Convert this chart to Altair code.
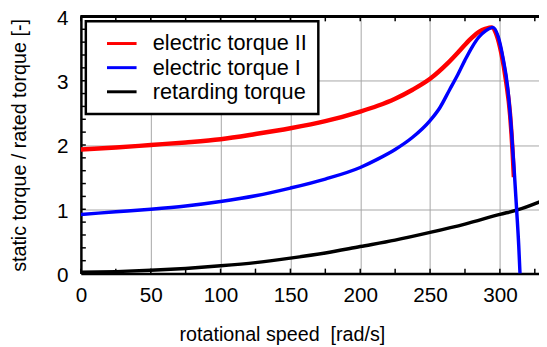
import altair as alt
import pandas as pd

# ---- data ----
series_names = ["electric torque II", "electric torque I", "retarding torque"]
series_colors = ["#ff0000", "#0000ff", "#000000"]

speed_II = [0, 25, 50, 75, 100, 125, 150, 175, 200, 212.5, 225, 237.5, 250, 262.5, 270, 275, 280,
            285, 290, 294, 297.5, 301, 304.5, 307.3, 309.2, 310]
torque_II = [1.93, 1.96, 2.0, 2.04, 2.09, 2.17, 2.26, 2.37, 2.52, 2.61, 2.72, 2.86, 3.03, 3.27, 3.44, 3.56, 3.67,
             3.76, 3.81, 3.83, 3.72, 3.43, 2.98, 2.47, 1.85, 1.5]

speed_I = [0, 25, 50, 75, 100, 125, 150, 175, 200, 212.5, 225, 237.5, 250, 257, 264, 270, 275, 280,
           285, 290, 295, 298.7, 302, 305.7, 308, 310.4, 312, 313.5, 314.4]
torque_I = [0.92, 0.96, 1.0, 1.05, 1.12, 1.21, 1.33, 1.47, 1.65, 1.78, 1.93, 2.12, 2.38, 2.58, 2.86, 3.10, 3.32, 3.52,
            3.68, 3.78, 3.83, 3.69, 3.38, 2.87, 2.31, 1.55, 0.99, 0.43, 0.0]

speed_ret = [0, 25, 50, 75, 100, 125, 150, 175, 200, 225, 250, 275, 300, 312.5, 330]
torque_ret = [0.02, 0.03, 0.05, 0.08, 0.12, 0.17, 0.24, 0.32, 0.42, 0.52, 0.64, 0.77, 0.92, 0.99, 1.13]

x_labels = [0, 50, 100, 150, 200, 250, 300]
y_labels = [0, 1, 2, 3, 4]
x_minor = [0, 25, 50, 75, 100, 125, 150, 175, 200, 225, 250, 275, 300, 325]
y_minor = [0, 0.2, 0.4, 0.6, 0.8, 1.0, 1.2, 1.4, 1.6, 1.8, 2.0, 2.2, 2.4, 2.6, 2.8,
           3.0, 3.2, 3.4, 3.6, 3.8, 4.0]

W, H = 465, 261
FONT = "Liberation Sans"

df_II = pd.DataFrame({"x": speed_II, "y": torque_II, "series": series_names[0]})
df_I = pd.DataFrame({"x": speed_I, "y": torque_I, "series": series_names[1]})
df_ret = pd.DataFrame({"x": speed_ret, "y": torque_ret, "series": series_names[2]})
df_xt = pd.DataFrame({"x": x_minor})
df_yt = pd.DataFrame({"y": y_minor})

xscale = alt.Scale(domain=[0, 328], nice=False, zero=False)
yscale = alt.Scale(domain=[0, 4], nice=False)

x_axis = alt.Axis(values=x_labels, grid=True, gridColor="#a6a6a6", gridWidth=1,
                  ticks=False, domainColor="black", domainWidth=2.5,
                  labelFont=FONT, labelFontSize=21, labelColor="black", labelPadding=11,
                  labelFlush=False,
                  title="rotational speed\u00a0 [rad/s]", titleFont=FONT, titleFontSize=20,
                  titleFontWeight="normal", titleColor="black",
                  titleX=204, titleY=68, titleAlign="center", titleBaseline="alphabetic")
y_axis = alt.Axis(values=y_labels, grid=True, gridColor="#a6a6a6", gridWidth=1,
                  ticks=False, domainColor="black", domainWidth=2.5,
                  labelFont=FONT, labelFontSize=21, labelColor="black", labelPadding=13,
                  labelFlush=False, labelOffset=2,
                  title="static torque / rated torque [-]", titleFont=FONT, titleFontSize=20,
                  titleFontWeight="normal", titleColor="black",
                  titleAngle=-90, titleX=-56, titleY=H / 2, titleAlign="center",
                  titleBaseline="alphabetic")

legend = alt.Legend(title=None, orient="none", legendX=5, legendY=5,
                    fillColor="white", strokeColor="black", padding=11,
                    symbolType="M-1.5,0L1.5,0", symbolSize=400, symbolStrokeWidth=3,
                    symbolOffset=14, labelOffset=20,
                    labelFont=FONT, labelFontSize=22, labelColor="black",
                    rowPadding=1.5)
color = alt.Color("series:N", scale=alt.Scale(domain=series_names, range=series_colors),
                  legend=legend)


def line_layer(df, width):
    return alt.Chart(df).mark_line(strokeWidth=width, interpolate="monotone", clip=True).encode(
        x=alt.X("x:Q", scale=xscale, axis=x_axis),
        y=alt.Y("y:Q", scale=yscale, axis=y_axis),
        color=color,
    )


black = line_layer(df_ret, 3.5)
red = line_layer(df_II, 4.5)
blue = line_layer(df_I, 3.5)

bottom_ticks = alt.Chart(df_xt).mark_rule(color="black", strokeWidth=1.5).encode(
    x=alt.X("x:Q", scale=xscale, axis=x_axis), y=alt.value(H), y2=alt.value(H - 5))
top_ticks = alt.Chart(df_xt).mark_rule(color="black", strokeWidth=1.5).encode(
    x=alt.X("x:Q", scale=xscale, axis=x_axis), y=alt.value(0), y2=alt.value(5))
left_ticks = alt.Chart(df_yt).mark_rule(color="black", strokeWidth=1.5).encode(
    y=alt.Y("y:Q", scale=yscale, axis=y_axis), x=alt.value(0), x2=alt.value(5))
top_line = alt.Chart(df_xt).mark_rule(color="black", strokeWidth=2.5).encode(
    x=alt.value(0), x2=alt.value(W), y=alt.value(0))

chart = alt.layer(black, red, blue, bottom_ticks, top_ticks, left_ticks, top_line).properties(
    width=W, height=H,
    padding={"left": 74, "top": 6, "right": 0, "bottom": 72},
    autosize=alt.AutoSizeParams(type="none"),
    background="white",
).configure_view(stroke=None).configure_legend(strokeWidth=2.5)

chart.save("out.html", embed_options={"renderer": "svg", "actions": False})
